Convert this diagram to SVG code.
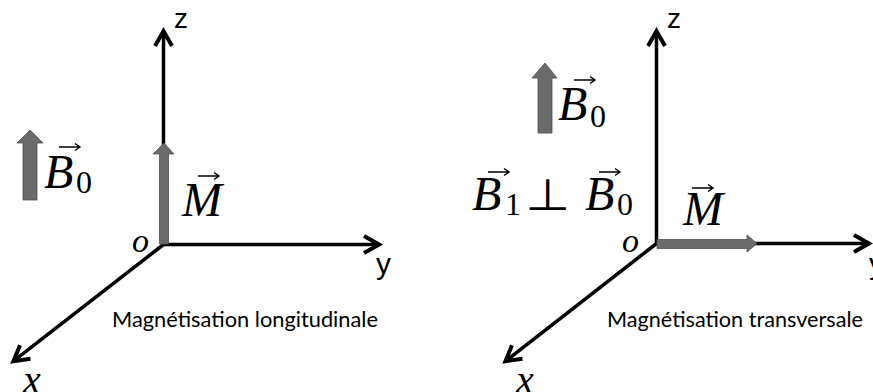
<svg xmlns="http://www.w3.org/2000/svg" xmlns:xlink="http://www.w3.org/1999/xlink" width="873" height="392" viewBox="0 0 873 392">
<style>
.axis{stroke:#000;stroke-width:3.5;fill:none;marker-end:url(#chev)}
.vecbar{fill:#6b6b6b;stroke:#4f4f4f;stroke-width:0.8}
.lbl{fill:#000}
.cap{font-size:20.5px;fill:#000}
</style>
<defs>
<marker id="chev" viewBox="-18 -11 24 22" markerWidth="24" markerHeight="22" refX="0" refY="0" orient="auto" markerUnits="userSpaceOnUse">
<path d="M-15,-8.5 L0,0 L-15,8.5" fill="none" stroke="#000" stroke-width="4" stroke-linejoin="miter"/>
</marker>
<g id="vec"><path d="M0,0H21 M16,-3.5 L21,0 L16,3.5" fill="none" stroke="#000" stroke-width="1.4"/></g>
</defs>
<rect width="873" height="392" fill="#fff"/>

<g id="connectors">
<line class="axis" x1="163.5" y1="244.5" x2="163.5" y2="31"/>
<line class="axis" x1="163.5" y1="244.5" x2="379" y2="244.5"/>
<line class="axis" x1="163.5" y1="244.5" x2="13.4" y2="361.2"/>
<line class="axis" x1="656.5" y1="243.5" x2="656.5" y2="31"/>
<line class="axis" x1="656.5" y1="243.5" x2="869" y2="243.5"/>
<line class="axis" x1="656.5" y1="243.5" x2="505.4" y2="361.2"/>
</g>

<g id="left-panel" font-family="'Liberation Serif', 'DejaVu Serif', serif">
<g id="left-axis-labels">
<text class="lbl" font-family="'Liberation Sans', Arial, sans-serif" x="174" y="28" font-size="28">z</text>
<text class="lbl" font-family="'Liberation Sans', Arial, sans-serif" x="376" y="274" font-size="30">y</text>
<text font-style="italic" x="23" y="393" font-size="40">x</text>
<text font-style="italic" x="132" y="252" font-size="34">o</text>
</g>
<g id="left-M">
<polygon class="vecbar" points="159.5,244 168.5,244 168.5,154 174,154 164,143 153,154 159.5,154"/>
<text font-style="italic" font-size="48" x="182" y="216">M</text>
<use xlink:href="#vec" transform="translate(198,176)"/>
</g>
<g id="left-B0">
<polygon class="vecbar" points="23,200 37,200 37,143 43,143 30,130 17,143 23,143"/>
<text font-style="italic" font-size="48" x="44" y="188">B</text>
<text font-size="32" x="76" y="193">0</text>
<use xlink:href="#vec" transform="translate(59,147)"/>
</g>
<text id="left-caption" class="cap" font-family="Lato, 'Open Sans', sans-serif" x="112" y="327" textLength="266" lengthAdjust="spacingAndGlyphs">Magnétisation longitudinale</text>
</g>

<g id="right-panel" font-family="'Liberation Serif', 'DejaVu Serif', serif">
<g id="right-axis-labels">
<text class="lbl" font-family="'Liberation Sans', Arial, sans-serif" x="667" y="28" font-size="28">z</text>
<text class="lbl" font-family="'Liberation Sans', Arial, sans-serif" x="869" y="274" font-size="30">y</text>
<text font-style="italic" x="516" y="393" font-size="40">x</text>
<text font-style="italic" x="622" y="252" font-size="34">o</text>
</g>
<g id="right-M">
<polygon class="vecbar" points="657,239.5 747,239.5 747,235 757,243.5 747,252 747,248.5 657,248.5"/>
<text font-style="italic" font-size="48" x="683" y="225">M</text>
<use xlink:href="#vec" transform="translate(692,188)"/>
</g>
<g id="right-B0">
<polygon class="vecbar" points="538,133 552,133 552,78 557,78 545,63 532,78 538,78"/>
<text font-style="italic" font-size="48" x="558" y="120">B</text>
<text font-size="32" x="590" y="127">0</text>
<use xlink:href="#vec" transform="translate(574,80)"/>
</g>
<g id="right-B1-perp-B0">
<text font-style="italic" font-size="48" x="472" y="210">B</text>
<text font-size="32" x="505" y="215">1</text>
<use xlink:href="#vec" transform="translate(488,172)"/>
<text x="525" y="209.5" font-family="'DejaVu Sans', sans-serif" font-size="44" textLength="45" lengthAdjust="spacingAndGlyphs">⊥</text>
<text font-style="italic" font-size="48" x="585" y="210">B</text>
<text font-size="32" x="617" y="215">0</text>
<use xlink:href="#vec" transform="translate(599,172)"/>
</g>
<text id="right-caption" class="cap" font-family="Lato, 'Open Sans', sans-serif" x="607" y="327" textLength="256" lengthAdjust="spacingAndGlyphs">Magnétisation transversale</text>
</g>
</svg>
